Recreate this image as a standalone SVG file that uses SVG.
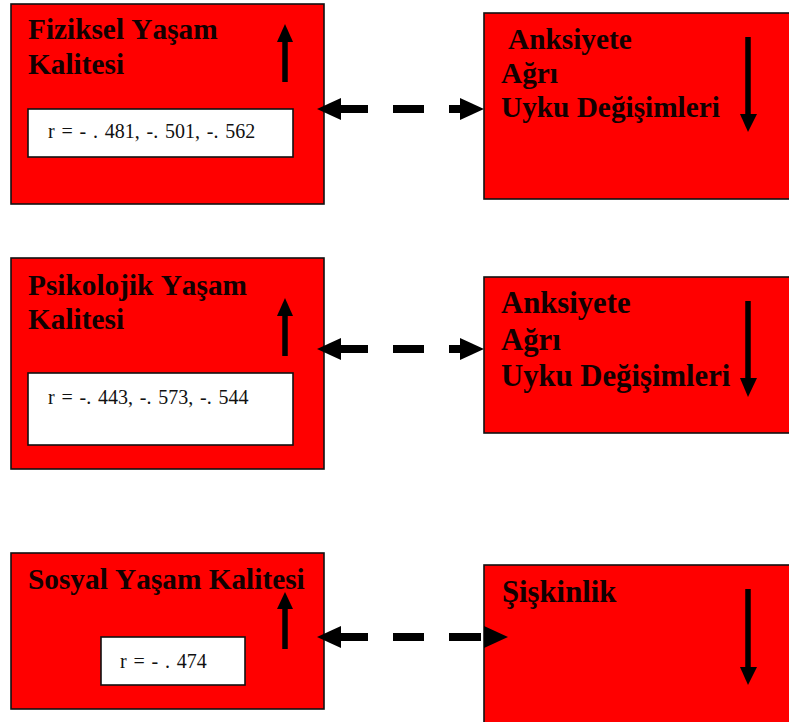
<svg xmlns="http://www.w3.org/2000/svg" width="789" height="722" viewBox="0 0 789 722">
  <style>
    .box { fill: #ff0000; stroke: #111; stroke-width: 1.6; }
    .val { fill: #ffffff; stroke: #111; stroke-width: 1.6; }
    .title { font-family: "Liberation Serif", "Times New Roman", serif; font-weight: bold; font-size: 29.3px; fill: #120000; font-kerning: none; }
    .big { font-size: 30.7px; }
    .num { font-family: "Liberation Serif", "Times New Roman", serif; font-size: 20px; fill: #111; word-spacing: 1.8px; }
    .shaft { stroke: #000; stroke-width: 5.5; }
    .dash { stroke: #000; stroke-width: 8; fill: none; }
    .head { fill: #000; }
  </style>

  <!-- Row 1 -->
  <g id="fiziksel">
    <rect class="box" x="11" y="4" width="313" height="200"/>
    <text class="title" x="28" y="39">Fiziksel Yaşam</text>
    <text class="title" x="28" y="74">Kalitesi</text>
    <line class="shaft" x1="285" y1="40" x2="285" y2="82"/>
    <polygon class="head" points="285,24 277,42 293,42"/>
    <rect class="val" x="28" y="109" width="265" height="48"/>
    <text class="num" x="48" y="138">r = - . 481, -. 501, -. 562</text>
  </g>
  <g id="belirtiler1">
    <rect class="box" x="484" y="13" width="320" height="186"/>
    <text class="title" x="508" y="49">Anksiyete</text>
    <text class="title" x="501" y="83">Ağrı</text>
    <text class="title" x="501" y="117">Uyku Değişimleri</text>
    <line class="shaft" x1="748" y1="37" x2="748" y2="117"/>
    <polygon class="head" points="748,132 740,114 757,114"/>
  </g>

  <!-- Row 2 -->
  <g id="psikolojik">
    <rect class="box" x="11" y="258" width="313" height="211"/>
    <text class="title" x="28" y="295">Psikolojik Yaşam</text>
    <text class="title" x="28" y="329">Kalitesi</text>
    <line class="shaft" x1="285" y1="314" x2="285" y2="356"/>
    <polygon class="head" points="285,298 277,316 293,316"/>
    <rect class="val" x="28" y="373" width="265" height="72"/>
    <text class="num" x="48" y="404">r = -. 443, -. 573, -. 544</text>
  </g>
  <g id="belirtiler2">
    <rect class="box" x="484" y="277" width="320" height="156"/>
    <text class="title big" x="501" y="313">Anksiyete</text>
    <text class="title big" x="501" y="350">Ağrı</text>
    <text class="title big" x="501" y="386">Uyku Değişimleri</text>
    <line class="shaft" x1="748" y1="301" x2="748" y2="380"/>
    <polygon class="head" points="748,397 740,378 757,378"/>
  </g>

  <!-- Row 3 -->
  <g id="sosyal">
    <rect class="box" x="11" y="553" width="313" height="156"/>
    <text class="title" x="28" y="589">Sosyal Yaşam Kalitesi</text>
    <line class="shaft" x1="285" y1="606" x2="285" y2="649"/>
    <polygon class="head" points="285,592 277,609 293,609"/>
    <rect class="val" x="101" y="637" width="144" height="48"/>
    <text class="num" x="120" y="668">r = - . 474</text>
  </g>
  <g id="siskinlik">
    <rect class="box" x="484" y="565" width="320" height="160"/>
    <text class="title big" x="502" y="602">Şişkinlik</text>
    <line class="shaft" x1="748" y1="589" x2="748" y2="669"/>
    <polygon class="head" points="748,685 740,667 757,667"/>
  </g>

  <!-- Dashed double-headed connectors -->
  <g id="connectors">
    <line class="dash" x1="341" y1="109" x2="460" y2="109" stroke-dasharray="27 25 31 25 11"/>
    <polygon class="head" points="317,109 341,98 341,120"/>
    <polygon class="head" points="484,109 460,98 460,120"/>

    <line class="dash" x1="341" y1="349" x2="460" y2="349" stroke-dasharray="27 25 31 25 11"/>
    <polygon class="head" points="317,349 341,338 341,360"/>
    <polygon class="head" points="484,349 460,338 460,360"/>

    <line class="dash" x1="341" y1="637" x2="481" y2="637" stroke-dasharray="27 25 31 25 32"/>
    <polygon class="head" points="317,637 341,626 341,648"/>
    <polygon class="head" points="508,637 484,626 484,648"/>
  </g>
</svg>
